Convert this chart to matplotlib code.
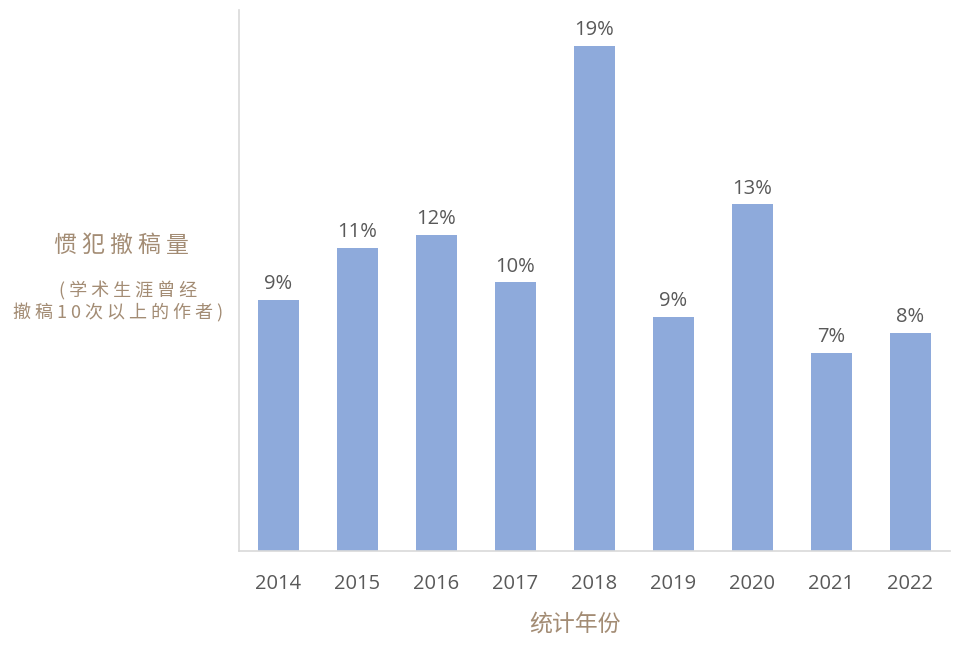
import matplotlib
matplotlib.use("Agg")
import matplotlib.pyplot as plt

plt.rcParams['font.family'] = ['Open Sans', 'Noto Sans CJK SC', 'DejaVu Sans']

years = ["2014", "2015", "2016", "2017", "2018", "2019", "2020", "2021", "2022"]
shares = [9.44, 11.4, 11.9, 10.1, 19.0, 8.8, 13.05, 7.45, 8.2]
labels = ["9%", "11%", "12%", "10%", "19%", "9%", "13%", "7%", "8%"]

bar_color = "#8EAADB"
text_gray = "#595959"
tan = "#A38C74"
cjk = ['Noto Sans CJK SC', 'DejaVu Sans']

fig = plt.figure(figsize=(9.6, 6.46), dpi=100)
ax = fig.add_axes([239 / 960, 1 - 551 / 646, 711 / 960, 541 / 646])

x = range(len(years))
bars = ax.bar(x, shares, width=0.51, color=bar_color)

for b, lab in zip(bars, labels):
    ax.annotate(lab, (b.get_x() + b.get_width() / 2, b.get_height()),
                xytext=(0, 4), textcoords="offset points",
                ha="center", va="bottom", fontsize=14.5, color=text_gray)

ax.set_xlim(-0.5, len(years) - 0.5)
ax.set_ylim(0, 20.35)
ax.set_xticks(list(x))
ax.set_xticklabels(years, fontsize=14.5, color=text_gray)
ax.set_yticks([])
ax.tick_params(axis="x", length=0, pad=16.5)

for side in ["top", "right"]:
    ax.spines[side].set_visible(False)
ax.spines["left"].set_color("#D9D9D9")
ax.spines["bottom"].set_color("#D9D9D9")
ax.spines["left"].set_linewidth(1.2)
ax.spines["bottom"].set_linewidth(1.2)

# axis titles placed like the original
fig.text(121 / 960, 1 - 245 / 646, "惯 犯 撤 稿 量", family=cjk, fontsize=16.5,
         color=tan, ha="center", va="center")
fig.text(128 / 960, 1 - 291 / 646, "( 学 术 生 涯 曾 经", family=cjk, fontsize=13,
         color=tan, ha="center", va="center")
fig.text(118 / 960, 1 - 313 / 646, "撤 稿 1 0 次 以 上 的 作 者 )", family=cjk, fontsize=13,
         color=tan, ha="center", va="center")
fig.text(575 / 960, 1 - 625 / 646, "统计年份", family=cjk, fontsize=16.5,
         color=tan, ha="center", va="center")

fig.savefig("out.png", dpi=100)
